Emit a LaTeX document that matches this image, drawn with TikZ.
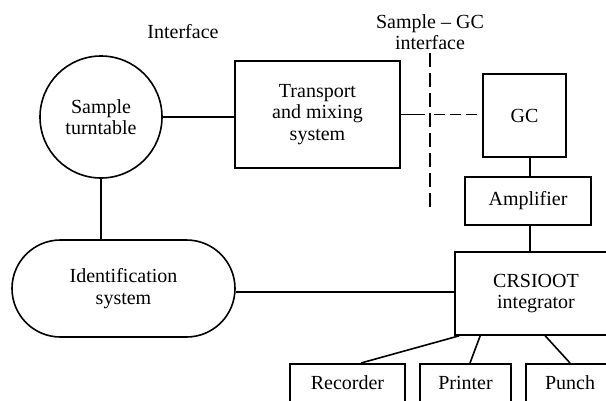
\documentclass[tikz,border=0pt]{standalone}
\usepackage{fontspec}
\setmainfont{Liberation Serif}
\usetikzlibrary{shapes.misc,calc}
\tikzset{
  blk/.style={draw, line width=1.6pt, inner sep=0pt, align=center, font=\fontsize{20}{21.5}\selectfont},
  lbl/.style={inner sep=0pt, align=center, font=\fontsize{20}{21.5}\selectfont},
  conn/.style={line width=1.6pt},
  dconn/.style={line width=1.6pt, dash pattern=on 11pt off 5pt},
  vdash/.style={line width=1.6pt, dash pattern=on 14pt off 6pt},
  outbox/.style={draw, line width=1.6pt, anchor=north, inner xsep=0pt, inner ysep=12pt, text height=14pt, text depth=40pt, font=\fontsize{20}{21.5}\selectfont}
}
\begin{document}
\begin{tikzpicture}[x=1pt,y=-1pt]
\useasboundingbox (0,0) rectangle (606,400);
\clip (0,0) rectangle (606,400);
\node[lbl] (iflab) at (183,32) {Interface};
\node[lbl] (sgclab) at (430,32) {Sample -- GC\\interface};
\node[blk, circle, minimum size=122pt] (tt) at (101,117) {Sample\\turntable};
\node[blk, minimum width=165pt, minimum height=107pt] (tr) at (317.5,114.5) {Transport\\and mixing\\system};
\node[blk, minimum width=83pt, minimum height=83pt] (gc) at (524.5,115.5) {GC};
\node[blk, minimum width=126pt, minimum height=48pt] (amp) at (528,201) {Amplifier};
\node[blk, minimum width=162pt, minimum height=83pt] (crs) at (536,293.5) {CRSIOOT\\integrator};
\node[blk, rounded rectangle, minimum width=223pt, minimum height=97pt] (id) at (123.5,288.5) {Identification\\system};
\node[outbox, minimum width=115pt] (rec) at (347.5,363) {Recorder};
\node[outbox, minimum width=91pt] (prn) at (465.5,363) {Printer};
\node[outbox, minimum width=88pt] (pun) at (570,363) {Punch};
\coordinate (dtop) at (430,53);
\coordinate (dbot) at (430,207);
\coordinate (cross) at (430,114.5);
% connectors
\draw[conn] (tt.east) -- (tt.east -| tr.west);
\draw[conn] (tr.east) -- ([xshift=-5pt]cross);
\draw[dconn] ([xshift=4pt]cross) -- (cross -| gc.west);
\draw[vdash] (dtop) -- (dbot);
\draw[conn] ([xshift=5.5pt]gc.south) -- ([xshift=2pt]amp.north);
\draw[conn] ([xshift=2pt]amp.south) -- ([xshift=2pt]amp.south |- crs.north);
\draw[conn] (tt.south) -- (tt.south |- id.north);
\draw[conn] (id.east |- 0,292) -- (crs.west |- 0,292);
\draw[conn] ([xshift=5pt]crs.south west) -- ([xshift=13.5pt]rec.north);
\draw[conn] ([xshift=26pt]crs.south west) -- ([xshift=4.5pt]prn.north);
\draw[conn] ([xshift=91pt]crs.south west) -- (pun.north);
\end{tikzpicture}
\end{document}
